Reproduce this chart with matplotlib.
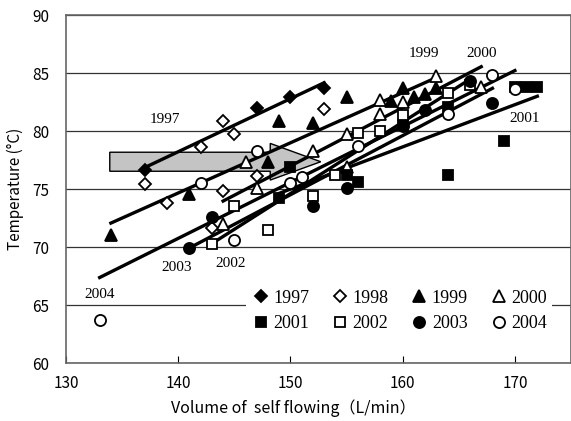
import numpy as np
import matplotlib
matplotlib.use("Agg")
import matplotlib.pyplot as plt
from matplotlib.patches import Polygon

# data: volume of self flowing (L/min) vs temperature (C)
x1997 = [137, 147, 150, 153]
y1997 = [76.6, 82.0, 82.9, 83.7]
x1998 = [137, 139, 142, 143, 144, 144, 145, 147, 153]
y1998 = [75.4, 73.8, 78.6, 71.6, 80.9, 74.8, 79.7, 76.1, 81.9]
x1999 = [134, 141, 148, 149, 152, 155, 159, 160, 161, 162, 163]
y1999 = [71.0, 74.6, 77.3, 80.9, 80.7, 82.9, 82.6, 83.7, 82.9, 83.2, 83.7]
x2000 = [144, 146, 147, 152, 155, 155, 158, 158, 160, 163, 167]
y2000 = [72.0, 77.3, 75.1, 78.3, 76.9, 79.7, 81.5, 82.7, 82.5, 84.7, 83.8]
x2001 = [149, 150, 155, 156, 160, 164, 164, 169, 170, 171, 172]
y2001 = [74.2, 76.9, 76.2, 75.6, 80.5, 82.1, 76.2, 79.1, 83.8, 83.8, 83.8]
x2002 = [143, 145, 148, 152, 154, 156, 158, 160, 164, 166]
y2002 = [70.3, 73.5, 71.5, 74.4, 76.2, 79.8, 80.0, 81.4, 83.3, 84.0]
x2003 = [141, 143, 152, 155, 160, 162, 166, 168]
y2003 = [69.9, 72.6, 73.5, 75.1, 80.4, 81.8, 84.3, 82.4]
x2004 = [133, 142, 145, 147, 150, 151, 156, 164, 168, 170]
y2004 = [63.7, 75.5, 70.6, 78.3, 75.5, 76.0, 78.7, 81.5, 84.8, 83.6]

years = ["1997", "1998", "1999", "2000", "2001", "2002", "2003", "2004"]
xs = [x1997, x1998, x1999, x2000, x2001, x2002, x2003, x2004]
ys = [y1997, y1998, y1999, y2000, y2001, y2002, y2003, y2004]
markers = ["D", "D", "^", "^", "s", "s", "o", "o"]
filled = [True, False, True, False, True, False, True, False]
msizes = [6.5, 6.5, 8, 8, 7, 7, 8, 8]
trend = [True, False, True, True, True, True, True, True]

# labels written next to the trend lines
lab_text = ["1997", "1999", "2000", "2001", "2002", "2003", "2004"]
lab_x = [138.8, 161.9, 167.0, 170.9, 144.7, 139.9, 133.0]
lab_y = [81.0, 86.7, 86.7, 81.1, 68.6, 68.2, 65.9]

# shaded arrow (body x0, x1, half height, head x, head half height, centre)
arr_x0, arr_x1, arr_tip = 133.9, 148.2, 152.7
arr_c, arr_h, arr_hh = 77.35, 0.82, 1.58

fig = plt.figure(figsize=(5.71, 4.21), dpi=100)
ax = fig.add_axes([66 / 571, 1 - 363 / 421, 1 - 66 / 571, (363 - 15) / 421])

sans = ["Noto Sans CJK JP", "DejaVu Sans"]
serif = "Liberation Serif"

handles = []
for i in range(len(years)):
  fc = "black" if filled[i] else "white"
  h, = ax.plot(xs[i], ys[i], linestyle="none", marker=markers[i], ms=msizes[i],
               mfc=fc, mec="black", mew=1.3, zorder=4, label=years[i])
  handles.append(h)
  if trend[i]:
    k, b = np.polyfit(xs[i], ys[i], 1)
    xx = np.array([min(xs[i]), max(xs[i])])
    ax.plot(xx, k * xx + b, color="black", lw=2.4, zorder=3)

arrow = Polygon([[arr_x0, arr_c - arr_h], [arr_x1, arr_c - arr_h], [arr_x1, arr_c - arr_hh],
                 [arr_tip, arr_c], [arr_x1, arr_c + arr_hh], [arr_x1, arr_c + arr_h],
                 [arr_x0, arr_c + arr_h]], closed=True, facecolor="#c4c4c4",
                edgecolor="black", lw=1.0, zorder=2)
ax.add_patch(arrow)

for t, x, y in zip(lab_text, lab_x, lab_y):
  ax.text(x, y, t, fontsize=11, family=serif, ha="center", va="center", zorder=5)

ax.set_xlim(130, 175)
ax.set_ylim(60, 90)
ax.set_xticks([130, 140, 150, 160, 170])
ax.set_yticks(np.arange(60, 91, 5))
ax.grid(axis="y", color="#333333", lw=0.9)
ax.set_axisbelow(True)
ax.tick_params(axis="x", direction="in", length=5, pad=9, labelsize=11)
ax.tick_params(axis="y", length=0, pad=12, labelsize=11)
for lab in ax.get_xticklabels() + ax.get_yticklabels():
  lab.set_family(sans)
for s in ax.spines.values():
  s.set_color("#666666")
  s.set_linewidth(1.2)

ax.set_xlabel("Volume of  self flowing（L/min）", fontsize=11.5, family=sans, va="center")
ax.xaxis.set_label_coords(0.45, -0.13)
ax.set_ylabel("Temperature (°C)", fontsize=11, family=sans, labelpad=6)

# legend fills column by column, so reorder to get the rows of the original
order = [0, 4, 1, 5, 2, 6, 3, 7]
leg = ax.legend(handles=[handles[j] for j in order], ncol=4, loc="center",
                bbox_to_anchor=(0.66, 0.15), prop={"family": serif, "size": 13},
                handlelength=1.0, handletextpad=0.2, columnspacing=1.2,
                labelspacing=0.45, frameon=True, borderpad=0.3)
leg.get_frame().set_edgecolor("none")
leg.get_frame().set_facecolor("white")
leg.get_frame().set_alpha(1.0)
leg.set_zorder(6)

plt.savefig("out.png", dpi=100)
